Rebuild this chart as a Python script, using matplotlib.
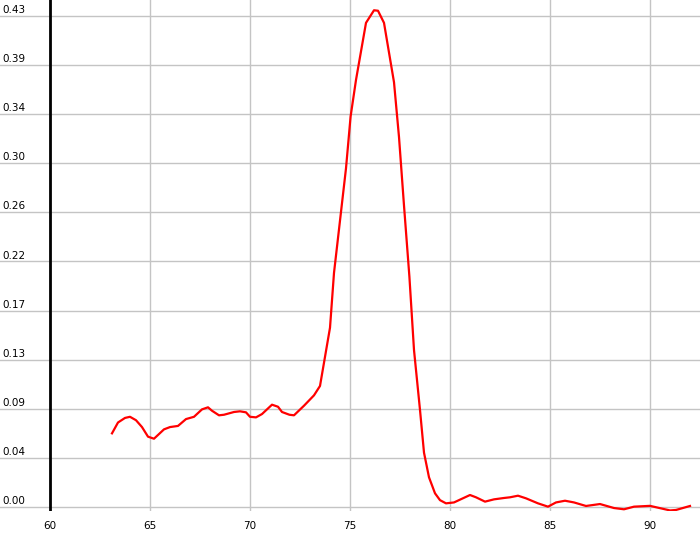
import matplotlib
matplotlib.use("Agg")
import matplotlib.pyplot as plt

# ── data ──────────────────────────────────────────────────────────────────────
x_vals = [63.1, 63.4, 63.75, 64.0, 64.3, 64.6, 64.9, 65.2, 65.7, 66.0,
          66.4, 66.8, 67.2, 67.6, 67.9, 68.1, 68.45, 68.7, 69.2, 69.5,
          69.8, 70.0, 70.3, 70.6, 71.1, 71.4, 71.6, 71.97, 72.2, 72.7,
          73.2, 73.5, 74.0, 74.2, 74.8, 75.03, 75.3, 75.8, 76.2, 76.4,
          76.7, 77.2, 77.45, 77.7, 77.97, 78.2, 78.5, 78.7, 78.95, 79.25,
          79.5, 79.8, 80.2, 81.0, 81.3, 81.75, 82.2, 82.7, 83.0, 83.4,
          83.8, 84.4, 84.9, 85.3, 85.75, 86.2, 86.8, 87.5, 88.2, 88.7,
          89.2, 90.0, 90.5, 91.0, 91.3, 92.0]
y_vals = [0.0645, 0.074, 0.078, 0.079, 0.076, 0.070, 0.0616, 0.0598, 0.068, 0.070,
          0.071, 0.077, 0.079, 0.0855, 0.0873, 0.0843, 0.0803, 0.0808, 0.0832, 0.0838,
          0.0829, 0.079, 0.0785, 0.0814, 0.0896, 0.0878, 0.0832, 0.0808, 0.0803, 0.0887,
          0.0978, 0.106, 0.157, 0.205, 0.2966, 0.342, 0.374, 0.424, 0.435, 0.4346,
          0.424, 0.372, 0.324, 0.264, 0.2017, 0.1375, 0.085, 0.0476, 0.026, 0.012,
          0.006, 0.0032, 0.004, 0.0105, 0.0085, 0.0047, 0.0067, 0.0079, 0.0085, 0.0099,
          0.0076, 0.0032, 0.0003, 0.004, 0.0055, 0.004, 0.0009, 0.0026, -0.0009, -0.002,
          0.0003, 0.001, -0.001, -0.003, -0.0026, 0.0009]

x_ticks = [60, 65, 70, 75, 80, 85, 90]
y_ticks = [0.0, 0.043, 0.086, 0.129, 0.172, 0.215, 0.258, 0.301, 0.344, 0.387, 0.43]
y_labels = ["0.00", "0.04", "0.09", "0.13", "0.17", "0.22", "0.26", "0.30", "0.34", "0.39", "0.43"]

# ── figure ────────────────────────────────────────────────────────────────────
fig = plt.figure(figsize=(7, 5.5), dpi=100)
ax = fig.add_axes([0, 39 / 550, 1, 511 / 550])
ax.set_xlim(57.5, 92.5)
ax.set_ylim(-0.0035, 0.444)

for s in ax.spines.values():
    s.set_visible(False)

# grid
ax.set_xticks(x_ticks)
ax.set_xticklabels([str(t) for t in x_ticks], fontsize=7.5)
ax.set_yticks(y_ticks)
ax.set_yticklabels([])
ax.tick_params(axis="both", length=0)
ax.tick_params(axis="x", pad=7)
ax.grid(True, color="#c4c4c4", linewidth=1)
ax.set_axisbelow(True)

# y labels sit just above each gridline, at the far left
for v, lab in zip(y_ticks, y_labels):
    ax.text(0.003, v + 0.0008, lab, transform=ax.get_yaxis_transform(),
            ha="left", va="bottom", fontsize=7.5)

ax.axvline(60, color="black", linewidth=2, zorder=3)

ax.plot(x_vals, y_vals, color="#ff0000", linewidth=1.6, zorder=4)

fig.savefig("out.png", dpi=100)
